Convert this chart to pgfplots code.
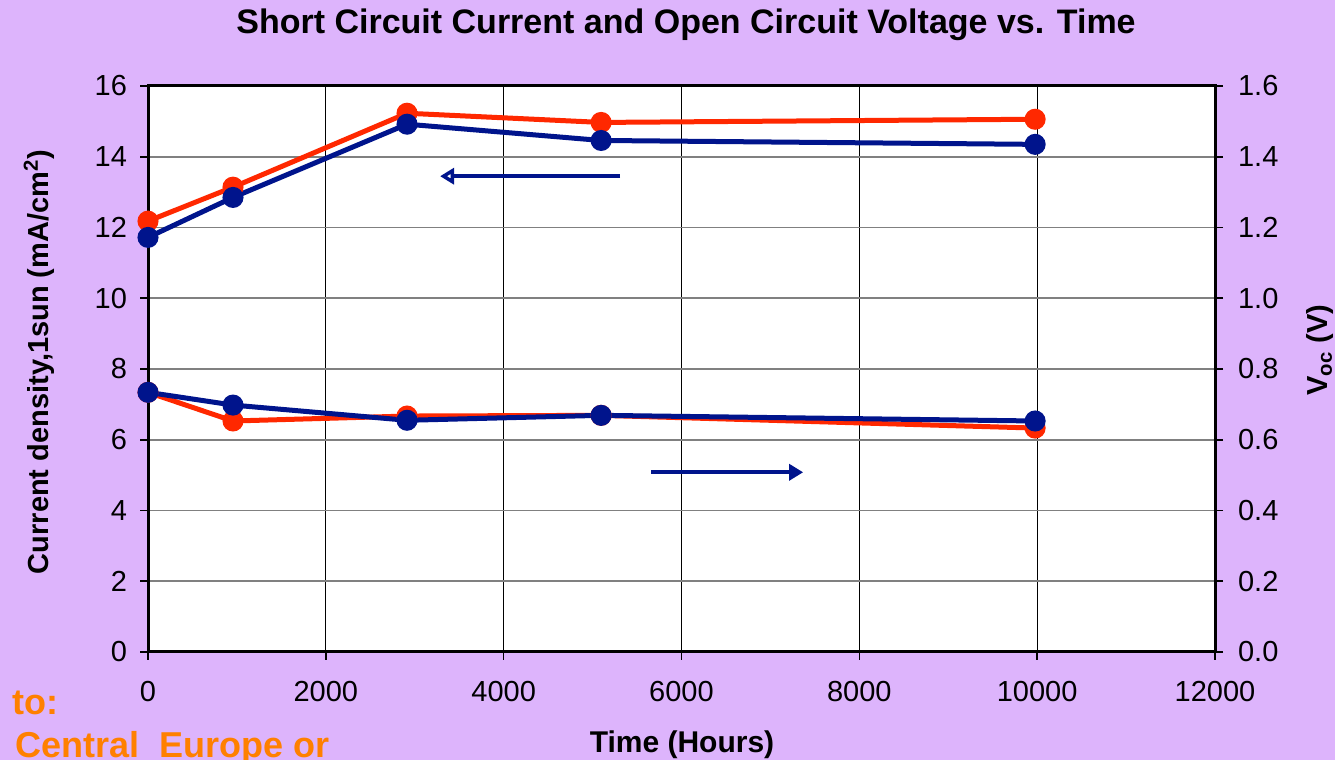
\documentclass[border=0pt]{standalone}
\usepackage{fontspec}
\setmainfont{Liberation Sans}
\usepackage{pgfplots}
\pgfplotsset{compat=1.18}
\usetikzlibrary{arrows.meta}
\definecolor{bgpurple}{RGB}{221,180,252}
\definecolor{sred}{RGB}{255,40,0}
\definecolor{sblue}{RGB}{0,20,140}
\definecolor{sorange}{RGB}{255,128,0}
\pgfplotsset{
  common/.style={
    at={(74pt,54pt)}, anchor=south west, scale only axis,
    width=533.5pt, height=283pt,
    xmin=0, xmax=12000,
    clip=false,
    scaled ticks=false,
    tick align=outside, major tick length=4pt,
    tick style={black, line width=0.8pt},
    axis line style={black, line width=1.5pt},
    ticklabel style={font=\fontsize{14.5}{16}\selectfont},
    /pgf/number format/assume math mode=true,
    /pgf/number format/1000 sep={},
  },
  ser/.style={line width=2.5pt, mark=*, mark size=4pt, mark options={solid}},
}
\begin{document}
\begin{tikzpicture}[x=1pt,y=1pt]
\fill[bgpurple] (0,0) rectangle (667.5,380);
\useasboundingbox (0,0) rectangle (667.5,380);
\begin{axis}[common,
  ymin=0, ymax=16,
  xtick={0,2000,4000,6000,8000,10000,12000},
  ytick={0,2,4,6,8,10,12,14,16},
  xtick pos=bottom, ytick pos=left,
  xticklabel style={yshift=-7pt},
  yticklabel style={xshift=-3pt},
  axis background/.style={fill=white},
  xmajorgrids, ymajorgrids,
  major x grid style={black, line width=0.6pt},
  major y grid style={gray, line width=0.9pt},
]
\addplot[ser, sred, mark options={fill=sred, draw=sred}] coordinates {
  (0,12.18) (956,13.14) (2913,15.23) (5096,14.97) (9977,15.06)};
\addplot[ser, sblue, mark options={fill=sblue, draw=sblue}] coordinates {
  (0,11.72) (956,12.85) (2913,14.92) (5096,14.46) (9977,14.35)};
\draw[sblue, line width=2pt, -{Triangle[open, length=7pt, width=8pt]}] (axis cs:5309,13.45) -- (axis cs:3285,13.45);
\draw[sblue, line width=2pt, -{Triangle[length=7pt, width=8pt]}] (axis cs:5659,5.08) -- (axis cs:7368,5.08);
\end{axis}
\begin{axis}[common,
  ymin=0, ymax=1.6,
  ytick={0,0.2,0.4,0.6,0.8,1.0,1.2,1.4,1.6},
  axis x line=none, axis y line*=right,
  yticklabel style={xshift=4pt, /pgf/number format/.cd, fixed, fixed zerofill, precision=1},
]
\addplot[ser, sred, mark options={fill=sred, draw=sred}] coordinates {
  (0,0.734) (956,0.653) (2913,0.667) (5096,0.669) (9977,0.633)};
\addplot[ser, sblue, mark options={fill=sblue, draw=sblue}] coordinates {
  (0,0.734) (956,0.698) (2913,0.655) (5096,0.669) (9977,0.653)};
\end{axis}
\node[font=\bfseries\fontsize{17}{19}\selectfont] at (343,367.5) {Short Circuit Current and Open Circuit Voltage vs. Time};
\node[font=\bfseries\fontsize{15}{17}\selectfont] at (341,7.5) {Time (Hours)};
\node[font=\bfseries\fontsize{14.5}{16}\selectfont, rotate=90] at (19.5,199) {Current density,1sun (mA/cm\textsuperscript{2})};
\node[font=\bfseries\fontsize{14.5}{16}\selectfont, rotate=90] at (660,205) {V\textsubscript{oc} (V)};
\node[anchor=base west, text=sorange, font=\bfseries\fontsize{18}{20}\selectfont] at (2.5,22.5) {to:};
\node[anchor=base west, text=sorange, font=\bfseries\fontsize{18}{20}\selectfont] at (4,1) {Central\ \ Europe or};
\end{tikzpicture}
\end{document}
